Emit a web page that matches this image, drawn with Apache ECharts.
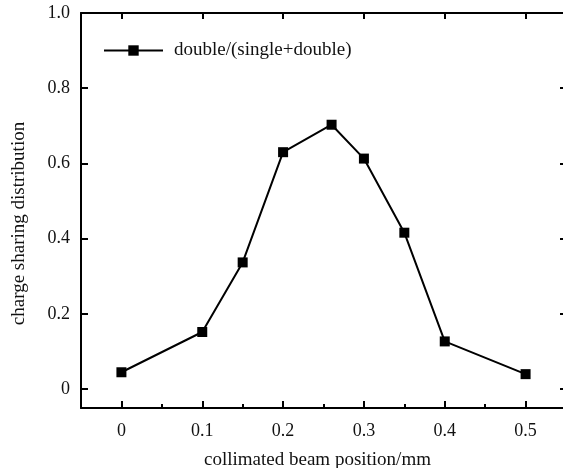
<!DOCTYPE html>
<html>
<head>
<meta charset="UTF-8"/>
<title>charge sharing</title>
<script src="https://cdn.jsdelivr.net/npm/echarts@6/dist/echarts.min.js"></script>
<style>
  html, body { margin: 0; padding: 0; background: #fff; }
  #main { width: 563px; height: 468px; }
</style>
</head>
<body>
<div id="main"></div>
<script type="text/javascript">
// beam position (mm) and measured ratio
var positions = [0, 0.1, 0.15, 0.2, 0.26, 0.3, 0.35, 0.4, 0.5];
var ratios = [0.045, 0.152, 0.337, 0.630, 0.703, 0.613, 0.416, 0.127, 0.040];
var seriesName = 'double/(single+double)';
// tick positions
var xMajorTicks = [0, 0.1, 0.2, 0.3, 0.4, 0.5];
var xMinorTicks = [0.05, 0.15, 0.25, 0.35, 0.45];
var yMajorTicks = [0, 0.2, 0.4, 0.6, 0.8, 1.0];

var font = 'Liberation Serif';
var ink = '#111';

var points = [];
for (var i = 0; i < positions.length; i++) {
    points.push([positions[i], ratios[i]]);
}

var fmtY = function (v) {
    return v === 0 ? '0' : v.toFixed(1);
};
var fmtX = function (v) {
    return v === 0 ? '0' : String(Math.round(v * 10) / 10);
};

var lineStyle = { color: '#000', width: 2 };
var tickStyle = { color: '#000', width: 2 };

var makeGrid = function () {
    return { left: 81, top: 13, right: -3, bottom: 60, outerBoundsMode: 'none', containLabel: false };
};

var myChart = echarts.init(document.getElementById('main'));
var option = {
    backgroundColor: '#fff',
    animation: false,
    // second grid only carries the minor ticks of the bottom axis
    grid: [makeGrid(), makeGrid()],
    legend: {
        left: 98,
        top: 36,
        itemWidth: 59,
        itemHeight: 13,
        data: [seriesName],
        textStyle: { fontFamily: font, fontSize: 19, color: ink, padding: [0, 0, 0, 6] }
    },
    xAxis: [
        {
            type: 'value',
            gridIndex: 0,
            position: 'bottom',
            min: -0.05,
            max: 0.55,
            name: 'collimated beam position/mm',
            nameLocation: 'middle',
            nameGap: 43,
            nameTextStyle: { fontFamily: font, fontSize: 19, color: ink, padding: [0, 12, 0, 0] },
            axisLine: { show: true, onZero: false, lineStyle: lineStyle },
            axisTick: { show: true, inside: true, length: 7, lineStyle: tickStyle, customValues: xMajorTicks },
            axisLabel: { margin: 14, fontFamily: font, fontSize: 18, color: ink, formatter: fmtX, customValues: xMajorTicks },
            splitLine: { show: false }
        },
        {
            type: 'value',
            gridIndex: 0,
            position: 'top',
            min: -0.05,
            max: 0.55,
            axisLine: { show: true, onZero: false, lineStyle: lineStyle },
            axisTick: { show: true, inside: true, length: 6, lineStyle: tickStyle, customValues: xMajorTicks },
            axisLabel: { show: false },
            splitLine: { show: false }
        },
        {
            type: 'value',
            gridIndex: 1,
            position: 'bottom',
            min: -0.05,
            max: 0.55,
            axisLine: { show: false, onZero: false },
            axisTick: { show: true, inside: true, length: 4, lineStyle: tickStyle, customValues: xMinorTicks },
            axisLabel: { show: false },
            splitLine: { show: false }
        }
    ],
    yAxis: [
        {
            type: 'value',
            gridIndex: 0,
            position: 'left',
            min: -0.05,
            max: 1.0,
            name: 'charge sharing distribution',
            nameLocation: 'middle',
            nameGap: 52,
            nameTextStyle: { fontFamily: font, fontSize: 19, color: ink, padding: [0, 26, 0, 0] },
            axisLine: { show: true, onZero: false, lineStyle: lineStyle },
            axisTick: { show: true, inside: true, length: 7, lineStyle: tickStyle, customValues: yMajorTicks },
            axisLabel: { margin: 11, fontFamily: font, fontSize: 18, color: ink, formatter: fmtY, customValues: yMajorTicks },
            splitLine: { show: false }
        },
        {
            type: 'value',
            gridIndex: 0,
            position: 'right',
            min: -0.05,
            max: 1.0,
            axisLine: { show: true, onZero: false, lineStyle: lineStyle },
            axisTick: { show: true, inside: true, length: 6, lineStyle: tickStyle, customValues: yMajorTicks },
            axisLabel: { show: false },
            splitLine: { show: false }
        },
        {
            type: 'value',
            gridIndex: 1,
            min: -0.05,
            max: 1.0,
            show: false
        }
    ],
    series: [
        {
            name: seriesName,
            type: 'line',
            xAxisIndex: 0,
            yAxisIndex: 0,
            data: points,
            symbol: 'rect',
            symbolSize: 10,
            showSymbol: true,
            itemStyle: { color: '#000' },
            lineStyle: { color: '#000', width: 2 }
        }
    ]
};
myChart.setOption(option);
</script>
</body>
</html>
